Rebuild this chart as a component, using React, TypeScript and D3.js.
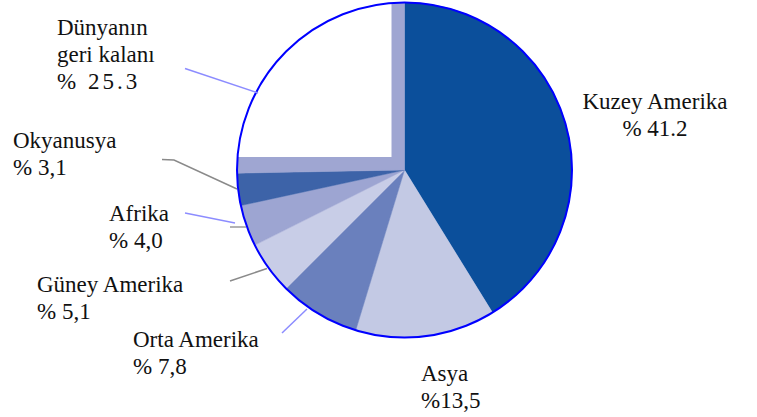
import React from "react";
import * as d3 from "d3";

const categories = ["Kuzey Amerika", "Asya", "Orta Amerika", "Güney Amerika", "Afrika", "Okyanusya", "Dünyanın geri kalanı"];
const values = [41.2, 13.5, 7.8, 5.1, 4.0, 3.1, 25.3];
const valueLabels = ["% 41.2", "%13,5", "% 7,8", "% 5,1", "% 4,0", "% 3,1", "% 25.3"];
const colors = ["#0b4f9b", "#c3c9e4", "#6a80bd", "#c8cde7", "#9da5d2", "#3d63a8", "#9fa6d2"];

const W = 757;
const H = 417;
const cx = 404.5;
const cy = 170;
const R = 167.5;
const FS = 23;

const labelLayout: { lines: string[]; x: number; y: number; anchor: string }[] = [
  { lines: ["Kuzey Amerika", valueLabels[0]], x: 655, y: 109, anchor: "middle" },
  { lines: ["Asya", valueLabels[1]], x: 421, y: 381, anchor: "start" },
  { lines: ["Orta Amerika", valueLabels[2]], x: 133, y: 347, anchor: "start" },
  { lines: ["Güney Amerika", valueLabels[3]], x: 37, y: 292, anchor: "start" },
  { lines: ["Afrika", valueLabels[4]], x: 109, y: 221, anchor: "start" },
  { lines: ["Okyanusya", valueLabels[5]], x: 13, y: 148, anchor: "start" },
  { lines: ["Dünyanın", "geri kalanı", valueLabels[6]], x: 57, y: 35, anchor: "start" },
];

const leaders: { pts: [number, number][]; color: string }[] = [
  { pts: [[185, 68.5], [258, 93]], color: "#8c8cff" },
  { pts: [[162, 159.5], [174, 160], [237, 189]], color: "#8a8a8a" },
  { pts: [[185, 213], [235, 223]], color: "#8c8cff" },
  { pts: [[230, 227], [246, 227]], color: "#9a9a9a" },
  { pts: [[230, 281], [267, 268.5]], color: "#8a8a8a" },
  { pts: [[282, 333], [307, 309]], color: "#8c8cff" },
];

export default function App() {
  const pie = d3
    .pie<number>()
    .sort(null)
    .startAngle(0)
    .endAngle(2 * Math.PI)
    .value((d) => d);
  const arcs = pie(values);
  const arc = d3.arc<d3.PieArcDatum<number>>().innerRadius(0).outerRadius(R);
  const line = d3.line();
  const lineHeight = 27;

  const textItems: { t: string; x: number; y: number; anchor: string; ls: number }[] = [];
  labelLayout.forEach((lab, i) => {
    lab.lines.forEach((t, j) => {
      const special = i === 6 && j === 2;
      textItems.push({
        t: special ? t.replace(" ", "\u00a0") : t,
        x: lab.x,
        y: lab.y + j * lineHeight,
        anchor: lab.anchor,
        ls: special ? 3 : 0,
      });
    });
  });

  return (
    <svg width={W} height={H} style={{ position: "absolute", left: 0, top: 0, background: "#fff" }}>
      <defs>
        <clipPath id="pieclip">
          <circle cx={cx} cy={cy} r={R} />
        </clipPath>
      </defs>
      <g transform={`translate(${cx},${cy})`}>
        {arcs.map((a, i) => (
          <path key={categories[i]} d={arc(a) || ""} fill={colors[i]} stroke={colors[i]} strokeWidth={0.5} />
        ))}
      </g>
      <rect
        x={cx - R - 2}
        y={cy - R - 2}
        width={R + 2 - 13}
        height={R + 2 - 13}
        fill="#ffffff"
        clipPath="url(#pieclip)"
      />
      <circle cx={cx} cy={cy} r={R} fill="none" stroke="#0000ff" strokeWidth={2} />
      {leaders.map((l, i) => (
        <path key={i} d={line(l.pts) || ""} fill="none" stroke={l.color} strokeWidth={1.5} />
      ))}
      <g fontFamily="Times New Roman, serif" fontSize={FS} fill="#111">
        {textItems.map((it, k) => (
          <text
            key={k}
            x={it.x}
            y={it.y}
            textAnchor={it.anchor}
            letterSpacing={it.ls ? it.ls : undefined}
          >
            {it.t}
          </text>
        ))}
      </g>
    </svg>
  );
}
